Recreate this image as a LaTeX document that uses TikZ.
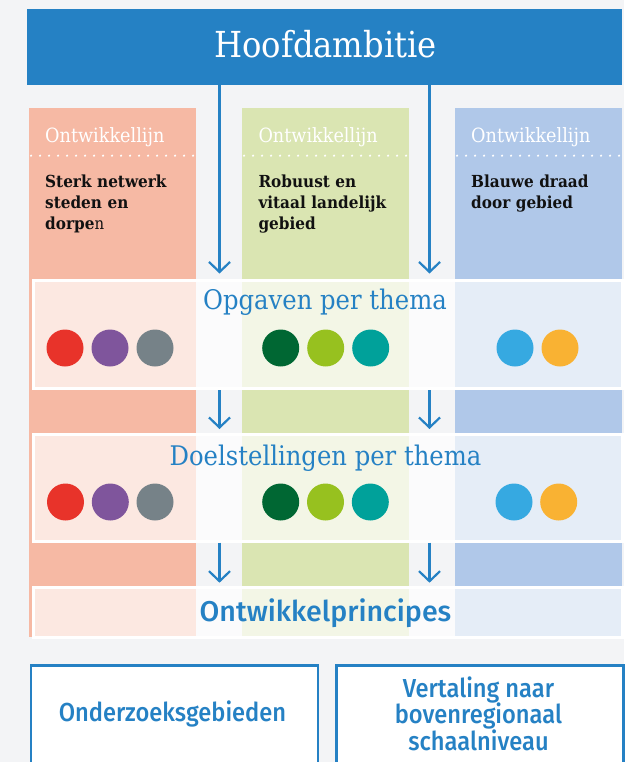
\documentclass[tikz,border=0pt]{standalone}
\usepackage{fontspec}
\setmainfont{DejaVu Serif}[FakeStretch=0.9]
\newfontfamily\slabbold{DejaVu Serif}[FakeStretch=0.92,UprightFont={* Bold}]
\newfontfamily\medsans{Fira Sans}[UprightFont={* Medium}]
\newfontfamily\condsans{Fira Sans}[FakeStretch=0.91,UprightFont={* Medium}]
\usetikzlibrary{arrows.meta}
\definecolor{bg}{HTML}{F3F4F6}
\definecolor{mainblue}{HTML}{2581C4}
\definecolor{colred}{HTML}{F6B9A4}
\definecolor{colgreen}{HTML}{DAE5B2}
\definecolor{colblue}{HTML}{B0C8E9}
\definecolor{cred}{HTML}{E8332A}
\definecolor{cpurple}{HTML}{7F559C}
\definecolor{cgray}{HTML}{768288}
\definecolor{cdgreen}{HTML}{006733}
\definecolor{clgreen}{HTML}{97C11F}
\definecolor{cteal}{HTML}{00A19A}
\definecolor{cblue}{HTML}{36A9E1}
\definecolor{corange}{HTML}{F9B233}
\definecolor{bodytext}{HTML}{111111}
\tikzset{
  colbox/.style={draw=none, minimum width=#1, minimum height=529.3pt, inner sep=0pt, anchor=north west},
  rowbox/.style={draw=white, line width=3pt, fill=white, fill opacity=0.68, inner sep=0pt, anchor=north west, minimum width=589pt},
  headtxt/.style={anchor=base west, inner sep=0pt, text=white, font=\fontsize{19.6}{22}\selectfont},
  bodytxt/.style={anchor=base west, inner sep=0pt, text=bodytext, text width=160pt, align=left, font=\slabbold\fontsize{16.6}{21}\selectfont},
  titletxt/.style={anchor=base, inner sep=0pt, text=mainblue, font=\fontsize{27}{30}\selectfont},
  dot/.style={circle, minimum size=37pt, inner sep=0pt, fill=#1},
  flowarrow/.style={draw=mainblue, line width=2.2pt, -{Straight Barb[length=10pt,width=21pt,line width=2.2pt]}},
  hdots/.style={draw=white, line width=2.4pt, line cap=round, dash pattern=on 0pt off 9pt},
  outbox/.style={draw=mainblue, line width=2.6pt, fill=white, inner sep=0pt, anchor=north west, minimum width=287pt, minimum height=110pt},
  outtxt/.style={text=mainblue, align=center, inner sep=0pt, font=\condsans\fontsize{26}{26.5}\selectfont}
}
\begin{document}
\begin{tikzpicture}[x=1pt,y=-1pt]
\useasboundingbox (0,0) rectangle (624,762);
\fill[bg] (0,0) rectangle (624,762);

% main bar
\node[fill=mainblue, inner sep=0pt, anchor=north west, minimum width=595pt, minimum height=75.7pt] (hoof) at (27,9) {};
\node[anchor=base, inner sep=0pt, text=white, font=\fontsize{35.8}{38}\selectfont] (hooftxt) at (325.5,57.3) {Hoofdambitie};

% columns
\node[colbox=167pt, fill=colred] (colA) at (29,107.7) {};
\node[colbox=167pt, fill=colgreen] (colB) at (242,107.7) {};
\node[colbox=167.3pt, fill=colblue] (colC) at (454.8,107.7) {};

% dotted separators
\draw[hdots] (31,155.7) -- (196,155.7);
\draw[hdots] (244,155.7) -- (409,155.7);
\draw[hdots] (457,155.7) -- (622,155.7);

% column headings
\node[headtxt] (hA) at (45,143) {Ontwikkellijn};
\node[headtxt] (hB) at (258.3,143) {Ontwikkellijn};
\node[headtxt] (hC) at (471,143) {Ontwikkellijn};

\node[bodytxt] (tA) at (45,187.7) {Sterk netwerk\\steden en\\dorpe{\rmfamily\fontsize{16.6}{21}\selectfont n}};
\node[bodytxt] (tB) at (258.3,187.7) {Robuust en\\vitaal landelijk\\gebied};
\node[bodytxt] (tC) at (471,187.7) {Blauwe draad\\door gebied};

% row boxes
\node[rowbox, minimum height=108pt] (opg) at (31.5,278.7) {};
\node[rowbox, minimum height=107.3pt] (doel) at (31.5,432.7) {};
\node[rowbox, minimum height=50.5pt] (ontw) at (31.5,585.5) {};

\node[titletxt] (opgtxt) at (325,309.5) {Opgaven per thema};
\node[titletxt] (doeltxt) at (325.5,465) {Doelstellingen per thema};
\node[titletxt, font=\medsans\fontsize{28.6}{30}\selectfont] (ontwtxt) at (325.5,621.7) {Ontwikkelprincipes};

% connector points
\coordinate (a0) at (219.5,84.7);
\coordinate (b0) at (429.5,84.7);
\coordinate (a1) at (219.5,273.5);
\coordinate (b1) at (429.5,273.5);
\coordinate (a2) at (219.5,390);
\coordinate (b2) at (429.5,390);
\coordinate (a3) at (219.5,429);
\coordinate (b3) at (429.5,429);
\coordinate (a4) at (219.5,542.7);
\coordinate (b4) at (429.5,542.7);
\coordinate (a5) at (219.5,582.7);
\coordinate (b5) at (429.5,582.7);

% arrows
\draw[flowarrow] (a0) -- (a1);
\draw[flowarrow] (b0) -- (b1);
\draw[flowarrow] (a2) -- (a3);
\draw[flowarrow] (b2) -- (b3);
\draw[flowarrow] (a4) -- (a5);
\draw[flowarrow] (b4) -- (b5);

% dots row 1
\node[dot=cred] (d11) at (65,348) {};
\node[dot=cpurple] (d12) at (110,348) {};
\node[dot=cgray] (d13) at (155,348) {};
\node[dot=cdgreen] (d14) at (280.7,348) {};
\node[dot=clgreen] (d15) at (325.7,348) {};
\node[dot=cteal] (d16) at (370.7,348) {};
\node[dot=cblue] (d17) at (515,348) {};
\node[dot=corange] (d18) at (560,348) {};
% dots row 2
\node[dot=cred] (d21) at (65.5,502) {};
\node[dot=cpurple] (d22) at (110.3,502) {};
\node[dot=cgray] (d23) at (155,502) {};
\node[dot=cdgreen] (d24) at (280.7,502) {};
\node[dot=clgreen] (d25) at (325.5,502) {};
\node[dot=cteal] (d26) at (370.3,502) {};
\node[dot=cblue] (d27) at (514,502) {};
\node[dot=corange] (d28) at (558.7,502) {};

% bottom boxes
\node[outbox] (onderz) at (29.8,664) {};
\node[outbox] (vertal) at (335.3,664) {};
\node[outtxt] (onderztxt) at (172.5,714) {Onderzoeksgebieden};
\node[outtxt] (vertaltxt) at (478.5,713.5) {Vertaling naar\\bovenregionaal\\schaalniveau};
\end{tikzpicture}
\end{document}
